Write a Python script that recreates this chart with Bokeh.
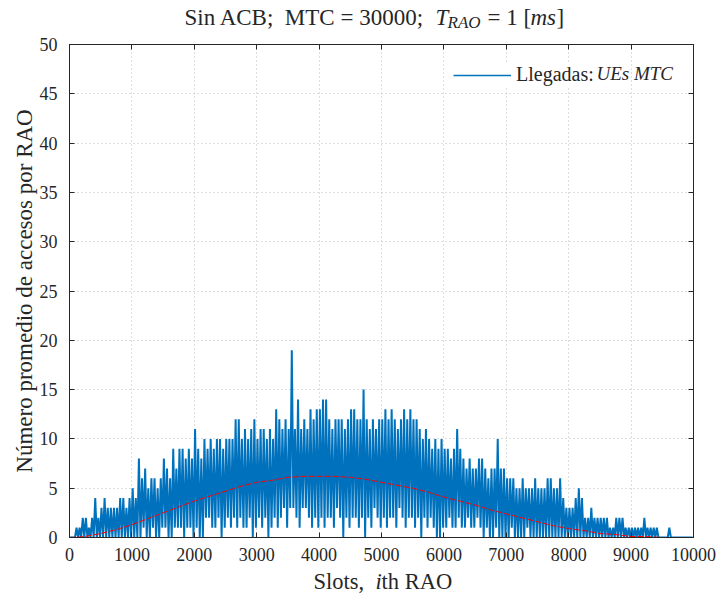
from bokeh.plotting import figure
from bokeh.layouts import column
from bokeh.models import (Label, Legend, LegendItem, LinearAxis, FixedTicker,
                          Range1d)
from bokeh.core.properties import value
from bokeh.embed import file_html
from bokeh.resources import INLINE

# ---- data ----
BIN = 50  # slots per bin
# maximum arrivals seen in each 50-slot bin
arrivals_max = [
    0, 0, 1, 1, 2, 2, 1, 2, 4, 2,
    3, 4, 3, 3, 3, 3, 4, 4, 3, 4,
    5, 4, 8, 6, 7, 5, 6, 6, 5, 6,
    8, 7, 6, 9, 7, 9, 9, 8, 9, 8,
    11, 9, 8, 10, 9, 10, 9, 10, 10, 9,
    10, 10, 10, 12, 12, 10, 11, 10, 11, 12,
    10, 11, 11, 10, 11, 10, 13, 12, 11, 12,
    11, 19, 11, 14, 11, 12, 11, 13, 12, 13,
    13, 14, 14, 12, 11, 12, 12, 12, 11, 12,
    13, 13, 12, 12, 15, 12, 11, 12, 11, 12,
    12, 13, 12, 13, 12, 11, 12, 13, 12, 13,
    12, 12, 11, 10, 11, 10, 9, 10, 9, 10,
    9, 9, 8, 9, 11, 9, 8, 7, 8, 7,
    7, 8, 8, 7, 6, 7, 7, 10, 7, 7,
    6, 6, 6, 5, 5, 6, 5, 5, 5, 6,
    5, 5, 5, 6, 6, 5, 5, 6, 4, 3,
    3, 3, 4, 5, 4, 2, 2, 3, 2, 2,
    2, 2, 2, 1, 1, 2, 2, 2, 1, 1,
    1, 1, 1, 1, 2, 1, 1, 1, 1, 0,
    0, 0, 1, 0, 0, 0, 0, 0, 0, 0,
]
# minimum arrivals seen in each 50-slot bin
arrivals_min = [
    0, 0, 0, 0, 0, 0, 0, 0, 0, 0,
    0, 0, 0, 0, 0, 0, 0, 0, 0, 0,
    0, 0, 0, 1, 0, 0, 1, 0, 0, 1,
    1, 0, 0, 1, 1, 1, 0, 1, 1, 0,
    1, 0, 0, 2, 2, 1, 1, 2, 0, 1,
    2, 1, 2, 1, 2, 1, 1, 2, 0, 1,
    2, 1, 2, 0, 1, 2, 1, 2, 3, 1,
    3, 3, 2, 1, 3, 3, 2, 1, 2, 1,
    2, 1, 2, 2, 1, 3, 2, 0, 2, 1,
    2, 2, 1, 2, 0, 2, 1, 3, 2, 1,
    2, 1, 2, 2, 1, 3, 2, 1, 2, 2,
    1, 2, 0, 2, 1, 2, 1, 0, 0, 1,
    1, 2, 1, 1, 2, 1, 1, 2, 1, 1,
    2, 1, 0, 1, 0, 0, 1, 0, 0, 0,
    0, 1, 0, 0, 0, 0, 1, 0, 0, 0,
    0, 0, 0, 0, 0, 0, 0, 0, 0, 0,
    0, 0, 0, 0, 0, 0, 0, 0, 0, 0,
    0, 0, 0, 0, 0, 0, 0, 0, 0, 0,
    0, 0, 0, 0, 0, 0, 0, 0, 0, 0,
    0, 0, 0, 0, 0, 0, 0, 0, 0, 0,
]
# expected arrivals per slot (red curve)
curve_slots = list(range(0, 10001, 250))
curve_values = [0.0, 0.1, 0.4, 0.8, 1.3, 1.9, 2.5, 3.1, 3.7, 4.2,
                4.7, 5.2, 5.6, 5.8, 6.1, 6.2, 6.2, 6.2, 6.1, 5.9,
                5.6, 5.3, 5.0, 4.6, 4.1, 3.7, 3.3, 2.8, 2.4, 2.0,
                1.6, 1.2, 0.9, 0.7, 0.4, 0.3, 0.1, 0.1, 0.0, 0.0, 0.0]
x_ticks = list(range(0, 10001, 1000))
y_ticks = list(range(0, 51, 5))

# zig-zag series: max then min inside each bin
xs, ys = [], []
for i, (hi, lo) in enumerate(zip(arrivals_max, arrivals_min)):
    xs += [i * BIN + BIN * 0.25, i * BIN + BIN * 0.75]
    ys += [hi, lo]

SERIF = "Liberation Serif"
BLUE = "#0072BD"
INK = "#262626"
NB = "\u00a0"
W = 719
FRAME_L, FRAME_R = 69, 693
TITLE_H, MAIN_H, XLAB_H = 33, 534, 32


def text_strip(height):
    f = figure(width=W, height=height, output_backend="svg",
               toolbar_location=None, x_range=Range1d(FRAME_L, FRAME_R),
               y_range=Range1d(0, height), min_border_left=FRAME_L,
               min_border_right=W - FRAME_R, min_border_top=0,
               min_border_bottom=0,
               x_axis_location=None, y_axis_location=None,
               border_fill_color="white", background_fill_color="white")
    f.grid.visible = False
    f.outline_line_color = None
    return f


def put(f, txt, x, y, size, style="normal"):
    f.text(x=[x], y=[y], text=[txt], text_font=value(SERIF),
           text_font_size=size, text_font_style=style, text_color=INK,
           text_baseline="alphabetic", text_align="left")


# ---- title strip ----
t = text_strip(TITLE_H)
put(t, "Sin ACB;" + NB + " MTC = 30000;", 184, 16, "23px")
put(t, "T", 435, 16, "23px", "italic")
put(t, "RAO", 447, 11, "17px", "italic")
put(t, "= 1 [", 487, 16, "23px")
put(t, "ms", 530, 16, "23px", "italic")
put(t, "]", 556, 16, "23px")

# ---- main plot ----
p = figure(width=W, height=MAIN_H, output_backend="svg", toolbar_location=None,
           x_range=Range1d(0, 10000), y_range=Range1d(0, 50),
           min_border_left=FRAME_L, min_border_right=W - FRAME_R,
           min_border_top=11, min_border_bottom=30,
           background_fill_color="white", border_fill_color="white")
p.outline_line_color = INK
p.outline_line_width = 1

p.line(xs, ys, line_color=BLUE, line_width=2.0)
p.line(curve_slots, curve_values, line_color="#FF0000", line_width=1.0,
       line_dash="6 2")
# thin copy of the first (all-zero) bin, used as the legend key
legend_key = p.line(xs[:2], ys[:2], line_color=BLUE, line_width=1.5)

for ax, ticks in ((p.xaxis[0], x_ticks), (p.yaxis[0], y_ticks)):
    ax.ticker = FixedTicker(ticks=ticks)
    ax.major_tick_in = 5
    ax.major_tick_out = 0
    ax.minor_tick_line_color = None
    ax.axis_line_color = INK
    ax.major_tick_line_color = INK
    ax.major_label_text_font = SERIF
    ax.major_label_text_font_size = "18px"
    ax.major_label_text_color = INK
p.xaxis[0].major_label_standoff = 10
p.yaxis[0].major_label_standoff = 12

p.yaxis[0].axis_label = "Número promedio de accesos por RAO"
p.yaxis[0].axis_label_text_font = SERIF
p.yaxis[0].axis_label_text_font_size = "23px"
p.yaxis[0].axis_label_text_font_style = "normal"
p.yaxis[0].axis_label_text_color = INK
p.yaxis[0].axis_label_standoff = 0

# box ticks on top and right (no labels)
for loc, ticks in (("above", x_ticks), ("right", y_ticks)):
    ax = LinearAxis(ticker=FixedTicker(ticks=ticks), major_tick_in=5,
                    major_tick_out=0, minor_tick_line_color=None,
                    major_label_text_font_size="1px",
                    major_label_text_color=None,
                    axis_line_color=INK,
                    major_tick_line_color=INK, major_label_standoff=0)
    p.add_layout(ax, loc)

p.xgrid.ticker = FixedTicker(ticks=x_ticks)
p.ygrid.ticker = FixedTicker(ticks=y_ticks)
for g in (p.xgrid[0], p.ygrid[0]):
    g.grid_line_color = "#bdbdbd"
    g.grid_line_dash = "1 3"
    g.grid_line_width = 1

legend = Legend(items=[LegendItem(label="Llegadas:", renderers=[legend_key])],
                location=(384, 451), border_line_color=None,
                background_fill_color="white", background_fill_alpha=1,
                label_text_font=SERIF, label_text_font_size="20px",
                label_text_color=INK,
                glyph_width=58, glyph_height=20, label_standoff=5,
                padding=5, spacing=0, margin=0)
p.add_layout(legend)
p.add_layout(Label(x=527, y=464, x_units="screen", y_units="screen",
                   text="UEs MTC", text_font=SERIF, text_font_size="19px",
                   text_font_style="italic", text_color=INK,
                   text_baseline="middle", text_align="left"))

# ---- x-axis label strip ----
b = text_strip(XLAB_H)
put(b, "Slots," + NB, 313, 18, "22.5px")
put(b, "i", 375, 18, "22.5px", "italic")
put(b, "th RAO", 381, 18, "22.5px")

layout = column(t, p, b, spacing=0)
open("out.html", "w").write(file_html(layout, INLINE))
